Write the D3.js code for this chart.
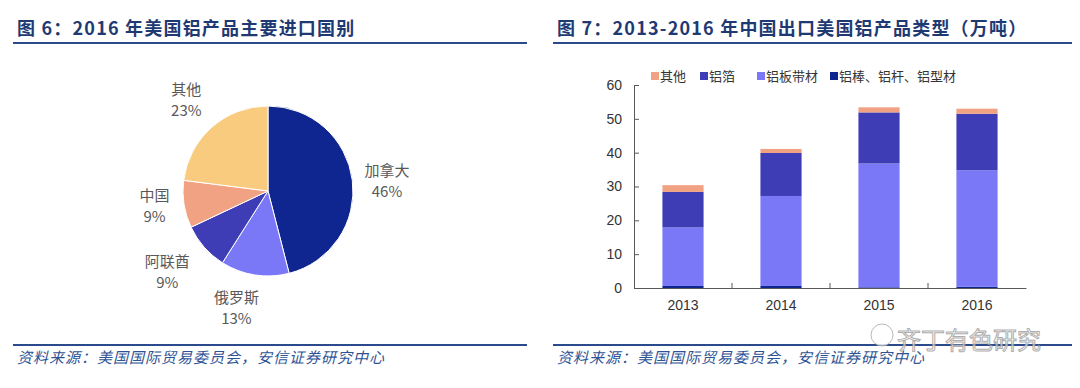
<!DOCTYPE html>
<html>
<head>
<meta charset="utf-8">
<script src="https://cdn.jsdelivr.net/npm/d3@7"></script>
<style>
  body { margin: 0; background: #fff; }
  svg { display: block; }
</style>
</head>
<body>
<script>
// pie data: 2016 US aluminium imports by country
const pieNames = ["加拿大", "俄罗斯", "阿联酋", "中国", "其他"];
const pieValues = [46, 13, 9, 9, 23];
const pieColors = ["#0f2690", "#7b78f8", "#3f3db5", "#f0a283", "#f9cb7e"];

// bar data: China exports to US by product (万吨)
const years = ["2013", "2014", "2015", "2016"];
const seriesNames = ["铝棒、铝杆、铝型材", "铝板带材", "铝箔", "其他"];
const rodValues = [0.6, 0.6, 0.2, 0.4];
const plateValues = [17.3, 26.6, 36.6, 34.4];
const foilValues = [10.5, 12.7, 15.1, 16.7];
const otherValues = [2.0, 1.2, 1.5, 1.5];
const seriesColors = ["#0f2690", "#7b78f8", "#3f3db5", "#f0a283"];
const legendOrder = ["其他", "铝箔", "铝板带材", "铝棒、铝杆、铝型材"];
const yTicks = [0, 10, 20, 30, 40, 50, 60];

const titleLeft = "图 6：2016 年美国铝产品主要进口国别";
const titleRight = "图 7：2013-2016 年中国出口美国铝产品类型（万吨）";
const source = "资料来源：美国国际贸易委员会，安信证券研究中心";

const font = "'Noto Sans CJK SC', 'Liberation Sans', sans-serif";

const svg = d3.select("body")
              .append("svg")
              .attr("width", 1080)
              .attr("height", 388)
              .style("font-family", font);

// titles, rules, source lines
const panels = [
  {x0: 13, x1: 527, title: titleLeft},
  {x0: 553, x1: 1072, title: titleRight}
];
panels.forEach(p => {
  svg.append("text")
     .attr("x", p.x0 + 4)
     .attr("y", 35)
     .attr("font-size", "18px")
     .attr("font-weight", "bold")
     .attr("letter-spacing", "1.2px")
     .attr("fill", "#1f3a73")
     .text(p.title);
  svg.append("line")
     .attr("x1", p.x0).attr("x2", p.x1)
     .attr("y1", 43).attr("y2", 43)
     .attr("stroke", "#2a4a8c")
     .attr("stroke-width", 2);
  svg.append("line")
     .attr("x1", p.x0).attr("x2", p.x1)
     .attr("y1", 345).attr("y2", 345)
     .attr("stroke", "#2a4a8c")
     .attr("stroke-width", 2);
  svg.append("text")
     .attr("x", p.x0 + 4)
     .attr("y", 363)
     .attr("font-size", "15px")
     .attr("letter-spacing", "1px")
     .attr("font-style", "italic")
     .attr("fill", "#2f5496")
     .text(source);
});

// ---- pie ----
const pieG = svg.append("g").attr("transform", "translate(268,191)");
const pie = d3.pie().sort(null).value(d => d);
const arc = d3.arc().innerRadius(0).outerRadius(85);
const arcs = pie(pieValues);

pieG.selectAll("path")
    .data(arcs)
    .enter()
    .append("path")
    .attr("d", arc)
    .attr("fill", (d, i) => pieColors[i])
    .attr("stroke", "#fff")
    .attr("stroke-width", 1);

// label positions relative to the pie centre
const labelArc = d3.arc().innerRadius(125).outerRadius(125);
const labelNudge = [[-5, 5], [-12, -7], [-7, -3], [10, -6], [1, 2]];
const labels = pieG.selectAll("g.lbl")
    .data(arcs)
    .enter()
    .append("g")
    .attr("class", "lbl")
    .attr("transform", (d, i) => {
      const c = labelArc.centroid(d);
      return `translate(${c[0] + labelNudge[i][0]},${c[1] + labelNudge[i][1]})`;
    });
labels.append("text")
      .attr("text-anchor", "middle")
      .attr("y", -4)
      .attr("font-size", "15px")
      .attr("fill", "#595959")
      .text((d, i) => pieNames[i]);
labels.append("text")
      .attr("text-anchor", "middle")
      .attr("y", 17)
      .attr("font-size", "15px")
      .attr("fill", "#595959")
      .text((d, i) => pieValues[i] + "%");

// ---- stacked bars ----
const plot = {left: 634, right: 1026, top: 85, bottom: 288};
const xscale = d3.scaleBand()
                 .domain(years)
                 .range([plot.left, plot.right])
                 .paddingInner(0.58)
                 .paddingOuter(0.29);
const band = d3.scaleBand().domain(years).range([plot.left, plot.right]);
const yscale = d3.scaleLinear().domain([0, 60]).range([plot.bottom, plot.top]);

const table = years.map((y, i) => ({
  year: y,
  "铝棒、铝杆、铝型材": rodValues[i],
  "铝板带材": plateValues[i],
  "铝箔": foilValues[i],
  "其他": otherValues[i]
}));
const stacked = d3.stack().keys(seriesNames)(table);
const color = d3.scaleOrdinal().domain(seriesNames).range(seriesColors);

svg.append("g")
   .selectAll("g")
   .data(stacked)
   .enter()
   .append("g")
   .attr("fill", d => color(d.key))
   .selectAll("rect")
   .data(d => d)
   .enter()
   .append("rect")
   .attr("x", d => xscale(d.data.year))
   .attr("width", xscale.bandwidth())
   .attr("y", d => yscale(d[1]))
   .attr("height", d => yscale(d[0]) - yscale(d[1]));

// y axis
const yAxis = svg.append("g")
   .attr("transform", `translate(${plot.left},0)`)
   .call(d3.axisLeft(yscale).tickValues(yTicks).tickSize(-5).tickPadding(12));
yAxis.select(".domain").attr("stroke", "#595959");
yAxis.selectAll(".tick line").attr("stroke", "#595959");
yAxis.selectAll("text").attr("font-size", "14px").attr("fill", "#333")
     .attr("font-family", "'Liberation Sans', Arial, sans-serif");

// x axis
const xAxis = svg.append("g")
   .attr("transform", `translate(0,${plot.bottom})`)
   .call(d3.axisBottom(band).tickSize(0).tickPadding(12));
xAxis.select(".domain").attr("stroke", "#595959");
xAxis.selectAll("text").attr("font-size", "14px").attr("fill", "#333")
     .attr("font-family", "'Liberation Sans', Arial, sans-serif");
// category separator ticks pointing up
xAxis.selectAll("line.sep")
     .data(years.slice(1))
     .enter()
     .append("line")
     .attr("class", "sep")
     .attr("x1", d => band(d)).attr("x2", d => band(d))
     .attr("y1", 0).attr("y2", -5)
     .attr("stroke", "#595959");

// legend
const legendX = [651, 700, 757, 830];
const legend = svg.append("g")
   .selectAll("g")
   .data(legendOrder)
   .enter()
   .append("g")
   .attr("transform", (d, i) => `translate(${legendX[i]},77)`);
legend.append("rect")
      .attr("x", 0).attr("y", -5)
      .attr("width", 8).attr("height", 8)
      .attr("fill", d => color(d));
legend.append("text")
      .attr("x", 9).attr("y", 4)
      .attr("font-size", "13px")
      .attr("fill", "#333")
      .text(d => d);

// watermark
const wm = svg.append("g").attr("opacity", 0.8);
wm.append("circle").attr("cx", 882).attr("cy", 335).attr("r", 11)
  .attr("fill", "#fff").attr("stroke", "#aaa");
wm.append("text")
  .attr("x", 897).attr("y", 349)
  .attr("font-size", "24px")
  .attr("fill", "#fff")
  .attr("stroke", "#999")
  .attr("stroke-width", 1)
  .text("齐丁有色研究");
</script>
</body>
</html>
